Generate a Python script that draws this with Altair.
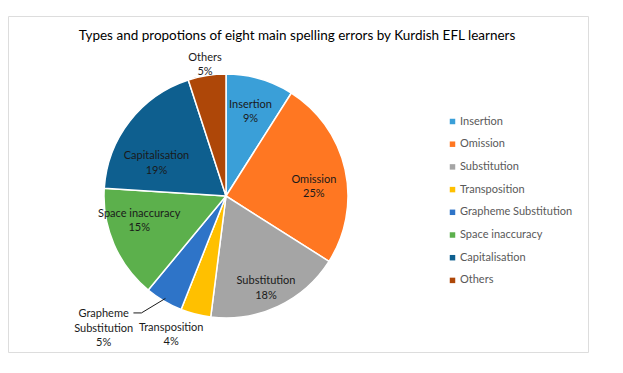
import altair as alt
import pandas as pd

categories = ["Insertion", "Omission", "Substitution", "Transposition",
              "Grapheme Substitution", "Space inaccuracy", "Capitalisation", "Others"]
percent = [9, 25, 18, 4, 5, 15, 19, 5]
colors = ["#3A9FD8", "#FF7722", "#A5A5A5", "#FFC000",
          "#2E74C8", "#5CB04C", "#0E5F8F", "#AE4708"]
title_text = "Types and propotions of eight main spelling errors by Kurdish EFL learners"

df = pd.DataFrame({"cat": categories, "value": percent, "order": list(range(len(categories)))})

FONT = "Lato"
CX, CY, R = 218, 180, 122
theta_scale = alt.Scale(domain=[0, 100])

base = alt.Chart(df).transform_window(
    cum="sum(value)", sort=[alt.SortField("order")], frame=[None, 0]
).transform_calculate(
    mid="datum.cum - datum.value / 2",
    label="[datum.cat, datum.value + '%']",
)

pie = alt.Chart(df).mark_arc(outerRadius=R, stroke="white", strokeWidth=1.5).encode(
    theta=alt.Theta("value:Q", stack=True, scale=theta_scale),
    order=alt.Order("order:Q"),
    color=alt.Color("cat:N", sort=categories,
                    scale=alt.Scale(domain=categories, range=colors),
                    legend=alt.Legend(title=None, orient="none", legendX=439, legendY=100,
                                      symbolType="square", symbolSize=30, symbolStrokeWidth=0,
                                      labelFont=FONT, labelFontSize=11, labelColor="#595959",
                                      rowPadding=10.7, padding=0, labelOffset=2)),
    x=alt.value(CX), y=alt.value(CY),
)

def label_layer(name, radius, dx=0, dy=0, text_expr=None):
    b = base.transform_filter(alt.datum.cat == name)
    if text_expr:
        b = b.transform_calculate(label=text_expr)
    return b.mark_text(radius=radius, dx=dx, dy=dy, font=FONT, fontSize=11, color="#1A1A1A",
                       align="center", baseline="middle", lineHeight=14.5).encode(
        theta=alt.Theta("mid:Q", stack=None, scale=theta_scale),
        text="label:N",
        x=alt.value(CX), y=alt.value(CY),
    )

labels = [
    label_layer("Insertion", 88, dx=0, dy=-6.5),
    label_layer("Omission", 88, dx=2, dy=3),
    label_layer("Substitution", 88, dx=2.5, dy=5.5),
    label_layer("Space inaccuracy", 88, dx=-6, dy=-17),
    label_layer("Capitalisation", 88, dx=0, dy=14),
    label_layer("Others", 134, dy=-6),
    label_layer("Transposition", 140, dx=-20, dy=-4),
    label_layer("Grapheme Substitution", 150, dx=-46, dy=-11,
                text_expr="['Grapheme', 'Substitution', datum.value + '%']"),
]

leader_base = base.transform_filter(alt.datum.cat == "Grapheme Substitution").transform_calculate(
    ang="2 * PI * datum.mid / 100",
).transform_calculate(
    ex=f"{CX} + {R - 3} * sin(datum.ang)",
    ey=f"{CY} - {R - 3} * cos(datum.ang)",
).transform_calculate(
    kx="datum.ex - 24", ky="datum.ey + 14.5", sx="datum.ex - 32",
)
leader1 = leader_base.mark_rule(color="#1A1A1A", strokeWidth=1).encode(
    x=alt.X("ex:Q", scale=None), y=alt.Y("ey:Q", scale=None),
    x2="kx:Q", y2="ky:Q")
leader2 = leader_base.mark_rule(color="#1A1A1A", strokeWidth=1).encode(
    x=alt.X("kx:Q", scale=None), y=alt.Y("ky:Q", scale=None),
    x2="sx:Q", y2="ky:Q")

title = alt.Chart(pd.DataFrame({"t": [title_text]})).mark_text(
    font=FONT, fontSize=13.5, color="#000000", align="center", baseline="middle"
).encode(text="t:N", x=alt.value(289), y=alt.value(20))

chart = alt.layer(pie, *labels, leader1, leader2, title).properties(
    width=580, height=336,
    autosize=alt.AutoSizeParams(type="none"),
    padding={"left": 0, "top": 8, "right": 2, "bottom": 4},
).configure_view(stroke="#D9D9D9", strokeWidth=1).configure(background="white")

chart.save("out.html", embed_options={"renderer": "svg", "actions": False})
